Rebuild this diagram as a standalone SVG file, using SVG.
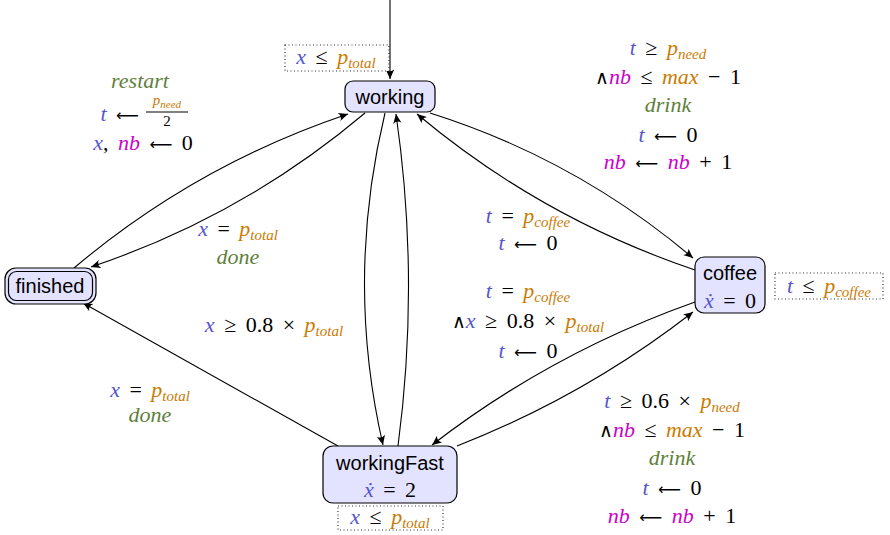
<svg xmlns="http://www.w3.org/2000/svg" width="890" height="535" viewBox="0 0 890 535">
<style>
.m{font-size:22px;text-anchor:middle;fill:#000;word-spacing:4px}
.i{font-style:italic}
.b{fill:#5555cc}
.o{fill:#cc7a00}
.g{fill:#5f7f3a}
.p{fill:#cc00cc}
.s{font-size:15px}
.sym{font-family:"DejaVu Sans",sans-serif;font-size:19px;font-style:normal}
.ar{font-family:"DejaVu Sans",sans-serif;font-size:16px;font-style:normal}
.node rect{fill:#e3e3ff;stroke:#000;stroke-width:1.2}
.lbl{font-size:20px;text-anchor:middle;fill:#000}
.e{fill:none;stroke:#000;stroke-width:1.1;marker-end:url(#ah)}
</style>
<defs>
<marker id="ah" markerUnits="userSpaceOnUse" markerWidth="12" markerHeight="12" refX="10" refY="5" orient="auto" viewBox="0 0 12 10">
<path d="M10,5 L0.5,0.8 Q4,5 0.5,9.2 Z" fill="#000"/>
</marker>
</defs>

<g id="connectors">
<line class="e" x1="390" y1="0" x2="390" y2="79"/>
<path class="e" d="M74,268 Q196,165 348,114"/>
<path class="e" d="M365,113 Q243,216 91,267"/>
<path class="e" d="M430,113 Q576,159 693,258"/>
<path class="e" d="M695,270 Q541,218 417,114"/>
<path class="e" d="M385,113 Q345,280 383,445"/>
<path class="e" d="M398,446 Q420,280 396,114"/>
<line class="e" x1="338" y1="446" x2="83" y2="303"/>
<path class="e" d="M695,302 Q551,353 432,445"/>
<path class="e" d="M457,446 Q585,396 693,312"/>
</g>

<g id="labels" font-family="'Liberation Serif', 'DejaVu Serif', serif">
<text class="m" x="140" y="88"><tspan class="i g">restart</tspan></text>
<text class="m" x="139" y="121" style="text-anchor:end"><tspan class="i b">t</tspan> <tspan class="ar">⟵</tspan></text>
<text class="m" x="167" y="105" style="font-size:15px"><tspan class="i o">p</tspan><tspan class="i o" font-size="11" dy="3">need</tspan></text>
<line x1="146" y1="112" x2="188" y2="112" stroke="#000" stroke-width="1"/>
<text class="m" x="167" y="126" style="font-size:15px">2</text>
<text class="m" x="143" y="150"><tspan class="i b">x</tspan>, <tspan class="i p">nb</tspan> <tspan class="ar">⟵</tspan> 0</text>

<text class="m" x="238" y="236"><tspan class="i b">x</tspan> = <tspan class="i o">p</tspan><tspan class="i o s" dy="4">total</tspan></text>
<text class="m" x="238" y="264"><tspan class="i g">done</tspan></text>

<text class="m" x="668" y="55"><tspan class="i b">t</tspan> ≥ <tspan class="i o">p</tspan><tspan class="i o s" dy="4">need</tspan></text>
<text class="m" x="668" y="84"><tspan class="sym">∧</tspan><tspan class="i p">nb</tspan> ≤ <tspan class="i o">max</tspan> − 1</text>
<text class="m" x="668" y="112"><tspan class="i g">drink</tspan></text>
<text class="m" x="668" y="142"><tspan class="i b">t</tspan> <tspan class="ar">⟵</tspan> 0</text>
<text class="m" x="668" y="169"><tspan class="i p">nb</tspan> <tspan class="ar">⟵</tspan> <tspan class="i p">nb</tspan> + 1</text>

<text class="m" x="528" y="223"><tspan class="i b">t</tspan> = <tspan class="i o">p</tspan><tspan class="i o s" dy="4">coffee</tspan></text>
<text class="m" x="528" y="250"><tspan class="i b">t</tspan> <tspan class="ar">⟵</tspan> 0</text>

<text class="m" x="528" y="298"><tspan class="i b">t</tspan> = <tspan class="i o">p</tspan><tspan class="i o s" dy="4">coffee</tspan></text>
<text class="m" x="528" y="328"><tspan class="sym">∧</tspan><tspan class="i b">x</tspan> ≥ 0.8 × <tspan class="i o">p</tspan><tspan class="i o s" dy="4">total</tspan></text>
<text class="m" x="528" y="358"><tspan class="i b">t</tspan> <tspan class="ar">⟵</tspan> 0</text>

<text class="m" x="274" y="332"><tspan class="i b">x</tspan> ≥ 0.8 × <tspan class="i o">p</tspan><tspan class="i o s" dy="4">total</tspan></text>

<text class="m" x="150" y="397"><tspan class="i b">x</tspan> = <tspan class="i o">p</tspan><tspan class="i o s" dy="4">total</tspan></text>
<text class="m" x="150" y="422"><tspan class="i g">done</tspan></text>

<text class="m" x="672" y="408"><tspan class="i b">t</tspan> ≥ 0.6 × <tspan class="i o">p</tspan><tspan class="i o s" dy="4">need</tspan></text>
<text class="m" x="672" y="437"><tspan class="sym">∧</tspan><tspan class="i p">nb</tspan> ≤ <tspan class="i o">max</tspan> − 1</text>
<text class="m" x="672" y="465"><tspan class="i g">drink</tspan></text>
<text class="m" x="672" y="495"><tspan class="i b">t</tspan> <tspan class="ar">⟵</tspan> 0</text>
<text class="m" x="672" y="523"><tspan class="i p">nb</tspan> <tspan class="ar">⟵</tspan> <tspan class="i p">nb</tspan> + 1</text>
</g>

<g id="working" class="node">
<rect x="345" y="81" width="90" height="31" rx="8"/>
<text class="lbl" x="390" y="104" font-family="'Liberation Sans', sans-serif">working</text>
<rect x="285" y="45" width="104" height="26" style="fill:#fff;stroke:#333;stroke-dasharray:1 2.5"/>
<text class="m" x="336" y="64" font-family="'Liberation Serif', serif"><tspan class="i b">x</tspan> ≤ <tspan class="i o">p</tspan><tspan class="i o s" dy="4">total</tspan></text>
</g>

<g id="finished" class="node">
<rect x="5" y="268" width="91" height="36" rx="11"/>
<rect x="8.5" y="271.5" width="84" height="29" rx="8"/>
<text class="lbl" x="50" y="293" font-family="'Liberation Sans', sans-serif">finished</text>
</g>

<g id="coffee" class="node">
<rect x="695" y="257" width="70" height="56" rx="9"/>
<text class="lbl" x="730" y="280" font-family="'Liberation Sans', sans-serif">coffee</text>
<text class="m" x="730" y="308" font-family="'Liberation Serif', serif"><tspan class="i b">ẋ</tspan> = 0</text>
<rect x="775" y="273" width="108" height="26" style="fill:#fff;stroke:#333;stroke-dasharray:1 2.5"/>
<text class="m" x="829" y="293" font-family="'Liberation Serif', serif"><tspan class="i b">t</tspan> ≤ <tspan class="i o">p</tspan><tspan class="i o s" dy="4">coffee</tspan></text>
</g>

<g id="workingFast" class="node">
<rect x="323" y="446" width="134" height="57" rx="10"/>
<text class="lbl" x="390" y="470" font-family="'Liberation Sans', sans-serif">workingFast</text>
<text class="m" x="390" y="497" font-family="'Liberation Serif', serif"><tspan class="i b">ẋ</tspan> = 2</text>
<rect x="338" y="506" width="105" height="24" style="fill:#fff;stroke:#333;stroke-dasharray:1 2.5"/>
<text class="m" x="390" y="524" font-family="'Liberation Serif', serif"><tspan class="i b">x</tspan> ≤ <tspan class="i o">p</tspan><tspan class="i o s" dy="4">total</tspan></text>
</g>
</svg>
